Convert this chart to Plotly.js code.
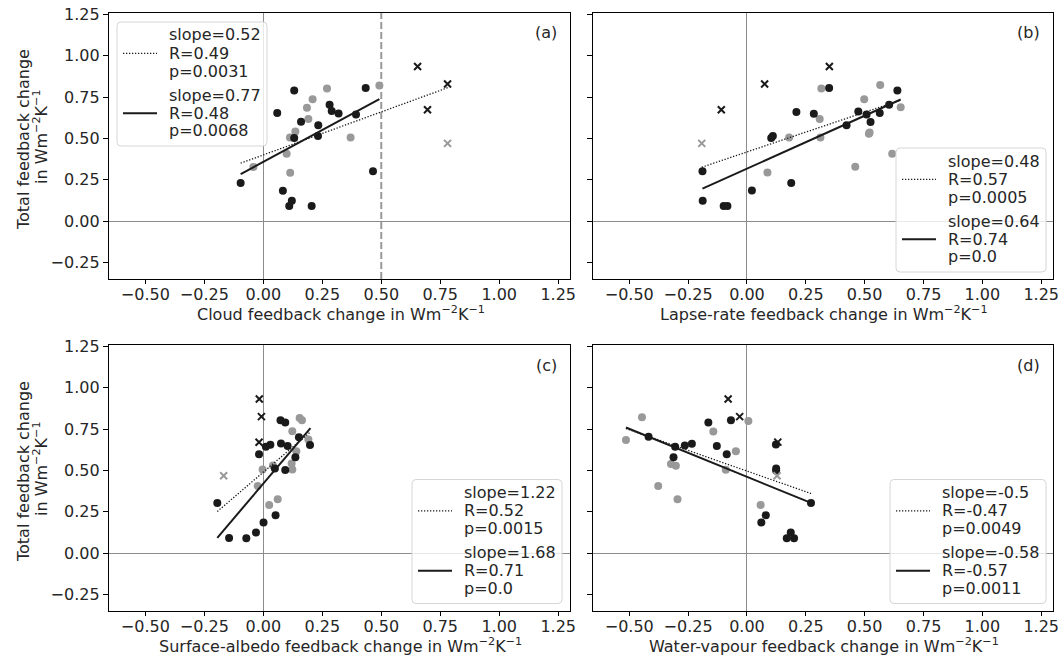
<!DOCTYPE html>
<html>
<head>
<meta charset="utf-8">
<script src="https://cdn.plot.ly/plotly-3.0.1.min.js"></script>
<style>html,body{margin:0;padding:0;background:#fff;}#chart{width:1062px;height:657px;}</style>
</head>
<body>
<div id="chart"></div>
<script>
// ---------- Data ----------
// Panel (a): Cloud feedback change
const aBlackX = [-0.096, 0.059, 0.131, 0.160, 0.131, 0.233, 0.232, 0.281, 0.290, 0.319, 0.393, 0.434, 0.465, 0.083, 0.121, 0.110, 0.205];
const aBlackY = [0.230, 0.653, 0.790, 0.600, 0.502, 0.580, 0.514, 0.704, 0.665, 0.651, 0.645, 0.804, 0.302, 0.183, 0.123, 0.091, 0.091];
const aGreyX = [-0.042, 0.099, 0.114, 0.113, 0.136, 0.191, 0.185, 0.209, 0.270, 0.370, 0.492];
const aGreyY = [0.327, 0.407, 0.292, 0.506, 0.542, 0.617, 0.685, 0.736, 0.802, 0.506, 0.820];
const aCrossX = [0.654, 0.781, 0.696];
const aCrossY = [0.935, 0.829, 0.673];
const aGreyCrossX = [0.781];
const aGreyCrossY = [0.470];

// Panel (b): Lapse-rate feedback change
const bBlackX = [-0.189, -0.188, -0.099, -0.083, 0.021, 0.103, 0.110, 0.188, 0.210, 0.284, 0.349, 0.423, 0.473, 0.508, 0.525, 0.564, 0.604, 0.639];
const bBlackY = [0.302, 0.123, 0.091, 0.091, 0.185, 0.502, 0.514, 0.230, 0.659, 0.649, 0.804, 0.580, 0.663, 0.645, 0.599, 0.653, 0.704, 0.790];
const bGreyX = [0.087, 0.179, 0.312, 0.309, 0.316, 0.460, 0.498, 0.521, 0.518, 0.566, 0.617, 0.653];
const bGreyY = [0.294, 0.506, 0.506, 0.617, 0.802, 0.329, 0.736, 0.536, 0.528, 0.823, 0.407, 0.688];
const bCrossX = [-0.109, 0.075, 0.350];
const bCrossY = [0.673, 0.829, 0.935];
const bGreyCrossX = [-0.192];
const bGreyCrossY = [0.470];

// Panel (c): Surface-albedo feedback change
const cBlackX = [-0.195, -0.145, -0.072, -0.031, 0.001, 0.052, -0.018, 0.011, 0.030, 0.049, 0.075, 0.103, 0.093, 0.073, 0.093, 0.136, 0.151, 0.198];
const cBlackY = [0.303, 0.092, 0.090, 0.124, 0.185, 0.229, 0.598, 0.643, 0.655, 0.512, 0.663, 0.647, 0.502, 0.803, 0.789, 0.580, 0.701, 0.653];
const cGreyX = [-0.024, -0.003, 0.025, 0.061, 0.041, 0.123, 0.120, 0.123, 0.140, 0.154, 0.164, 0.191];
const cGreyY = [0.406, 0.506, 0.291, 0.325, 0.530, 0.737, 0.542, 0.506, 0.616, 0.817, 0.803, 0.687];
const cCrossX = [-0.017, -0.008, -0.018];
const cCrossY = [0.932, 0.825, 0.670];
const cGreyCrossX = [-0.168];
const cGreyCrossY = [0.468];

// Panel (d): Water-vapour feedback change
const dBlackX = [-0.418, -0.305, -0.312, -0.264, -0.234, -0.164, -0.128, -0.086, -0.068, 0.123, 0.124, 0.124, 0.272, 0.080, 0.061, 0.186, 0.169, 0.200];
const dBlackY = [0.703, 0.643, 0.580, 0.651, 0.661, 0.789, 0.647, 0.598, 0.803, 0.657, 0.512, 0.500, 0.303, 0.229, 0.185, 0.124, 0.090, 0.090];
const dGreyX = [-0.514, -0.446, -0.377, -0.323, -0.302, -0.295, -0.143, -0.090, -0.047, 0.006, 0.058];
const dGreyY = [0.683, 0.821, 0.406, 0.538, 0.528, 0.325, 0.735, 0.504, 0.616, 0.799, 0.291];
const dCrossX = [-0.080, -0.031, 0.131];
const dCrossY = [0.932, 0.825, 0.671];
const dGreyCrossX = [0.128];
const dGreyCrossY = [0.468];

// Regression fits: [slope, intercept, xStart, xEnd]
const fitAllA = [0.52, 0.40, -0.096, 0.788];
const fitSubA = [0.77, 0.358, -0.096, 0.492];
const fitAllB = [0.48, 0.418, -0.192, 0.653];
const fitSubB = [0.64, 0.317, -0.189, 0.653];
const fitAllC = [1.22, 0.489, -0.195, 0.200];
const fitSubC = [1.68, 0.420, -0.195, 0.200];
const fitAllD = [-0.50, 0.496, -0.514, 0.272];
const fitSubD = [-0.58, 0.461, -0.514, 0.272];

// Legend labels (three lines per fit)
const labAllA = ["slope=0.52", "R=0.49", "p=0.0031"];
const labSubA = ["slope=0.77", "R=0.48", "p=0.0068"];
const labAllB = ["slope=0.48", "R=0.57", "p=0.0005"];
const labSubB = ["slope=0.64", "R=0.74", "p=0.0"];
const labAllC = ["slope=1.22", "R=0.52", "p=0.0015"];
const labSubC = ["slope=1.68", "R=0.71", "p=0.0"];
const labAllD = ["slope=-0.5", "R=-0.47", "p=0.0049"];
const labSubD = ["slope=-0.58", "R=-0.57", "p=0.0011"];

const cloudThreshold = 0.5;

const xTitles = ["Cloud feedback change in Wm<sup>\u22122</sup>K<sup>\u22121</sup>",
                 "Lapse-rate feedback change in Wm<sup>\u22122</sup>K<sup>\u22121</sup>",
                 "Surface-albedo feedback change in Wm<sup>\u22122</sup>K<sup>\u22121</sup>",
                 "Water-vapour feedback change in Wm<sup>\u22122</sup>K<sup>\u22121</sup>"];
const yTitleLines = ["Total feedback change", "in Wm<sup>\u22122</sup>K<sup>\u22121</sup>"];
const panelLabels = ["(a)", "(b)", "(c)", "(d)"];
const xTickVals = [-0.5, -0.25, 0, 0.25, 0.5, 0.75, 1.0, 1.25];
const yTickVals = [-0.25, 0, 0.25, 0.5, 0.75, 1.0, 1.25];

// ---------- Build ----------
const BLACK = "#1a1a1a", GREY = "#999999", TXT = "#262626";
const FONT = "DejaVu Sans, Verdana, sans-serif";
const DOT = "1.3px,1.7px";
const W = 1062, H = 657, mL = 109, mR = 9, mT = 13, mB = 46;
const PW = W - mL - mR, PH = H - mT - mB;
const P = px => (px - mL) / PW;           // pixel x -> paper
const Q = py => 1 - (py - mT) / PH;       // pixel y -> paper

// axes boxes in pixels [left, top, right, bottom]
const boxes = [[109, 13, 570, 279], [593, 13, 1053, 279], [109, 345, 570, 611], [593, 345, 1053, 611]];
// legend boxes in pixels [left, top, width]
const legendBoxes = [[117, 22, 150], [896, 148, 150], [412, 479.5, 150], [890, 479.5, 156]];

const panels = [
  {bx:aBlackX, by:aBlackY, gx:aGreyX, gy:aGreyY, cx:aCrossX, cy:aCrossY, gcx:aGreyCrossX, gcy:aGreyCrossY, fa:fitAllA, fs:fitSubA, la:labAllA, ls:labSubA},
  {bx:bBlackX, by:bBlackY, gx:bGreyX, gy:bGreyY, cx:bCrossX, cy:bCrossY, gcx:bGreyCrossX, gcy:bGreyCrossY, fa:fitAllB, fs:fitSubB, la:labAllB, ls:labSubB},
  {bx:cBlackX, by:cBlackY, gx:cGreyX, gy:cGreyY, cx:cCrossX, cy:cCrossY, gcx:cGreyCrossX, gcy:cGreyCrossY, fa:fitAllC, fs:fitSubC, la:labAllC, ls:labSubC},
  {bx:dBlackX, by:dBlackY, gx:dGreyX, gy:dGreyY, cx:dCrossX, cy:dCrossY, gcx:dGreyCrossX, gcy:dGreyCrossY, fa:fitAllD, fs:fitSubD, la:labAllD, ls:labSubD}
];

const traces = [];
const shapes = [{type:"line", xref:"x", yref:"y domain", x0:cloudThreshold, x1:cloudThreshold, y0:0, y1:1,
    line:{color:"#999999", width:2, dash:"7px,3px"}, layer:"below"}];
const annotations = [];
const tf = {family:FONT, size:16, color:TXT};

panels.forEach((p, i) => {
  const n = i === 0 ? "" : String(i + 1);
  const xa = "x" + n, ya = "y" + n;
  traces.push({type:"scatter", mode:"markers", x:p.gx, y:p.gy, xaxis:xa, yaxis:ya, showlegend:false,
    marker:{color:GREY, size:8}, hoverinfo:"skip"});
  traces.push({type:"scatter", mode:"markers", x:p.bx, y:p.by, xaxis:xa, yaxis:ya, showlegend:false,
    marker:{color:BLACK, size:8}, hoverinfo:"skip"});
  traces.push({type:"scatter", mode:"markers", x:p.cx, y:p.cy, xaxis:xa, yaxis:ya, showlegend:false,
    marker:{symbol:"x-thin", size:7, line:{color:BLACK, width:2}}, hoverinfo:"skip"});
  traces.push({type:"scatter", mode:"markers", x:p.gcx, y:p.gcy, xaxis:xa, yaxis:ya, showlegend:false,
    marker:{symbol:"x-thin", size:7, line:{color:GREY, width:2}}, hoverinfo:"skip"});
  const fx = f => [f[2], f[3]];
  const fy = f => [f[0]*f[2] + f[1], f[0]*f[3] + f[1]];
  traces.push({type:"scatter", mode:"lines", x:fx(p.fa), y:fy(p.fa), xaxis:xa, yaxis:ya, showlegend:false,
    line:{color:BLACK, width:1.3, dash:DOT}, hoverinfo:"skip"});
  traces.push({type:"scatter", mode:"lines", x:fx(p.fs), y:fy(p.fs), xaxis:xa, yaxis:ya, showlegend:false,
    line:{color:BLACK, width:2}, hoverinfo:"skip"});

  const b = boxes[i];
  const cxm = (b[0] + b[2]) / 2, cym = (b[1] + b[3]) / 2;
  annotations.push({text:xTitles[i], xref:"paper", yref:"paper", x:P(cxm + 1), y:Q(b[3] + 34), xanchor:"center", yanchor:"middle",
    showarrow:false, font:tf});
  if (i % 2 === 0) {
    annotations.push({text:yTitleLines[0], xref:"paper", yref:"paper", x:P(23), y:Q(cym - 6), xanchor:"center", yanchor:"middle",
      textangle:-90, showarrow:false, font:tf});
    annotations.push({text:yTitleLines[1], xref:"paper", yref:"paper", x:P(40), y:Q(cym - 9), xanchor:"center", yanchor:"middle",
      textangle:-90, showarrow:false, font:tf});
  }
  annotations.push({text:panelLabels[i], xref:"paper", yref:"paper", x:P(b[2] - 11), y:Q(b[1] + 20), xanchor:"right", yanchor:"middle",
    showarrow:false, font:tf});

  const L = legendBoxes[i];
  const lx0 = L[0], ly0 = L[1], lx1 = L[0] + L[2], ly1 = L[1] + 124, r = 4;
  const path = `M${P(lx0 + r)},${Q(ly0)} L${P(lx1 - r)},${Q(ly0)} Q${P(lx1)},${Q(ly0)} ${P(lx1)},${Q(ly0 + r)} ` +
    `L${P(lx1)},${Q(ly1 - r)} Q${P(lx1)},${Q(ly1)} ${P(lx1 - r)},${Q(ly1)} L${P(lx0 + r)},${Q(ly1)} ` +
    `Q${P(lx0)},${Q(ly1)} ${P(lx0)},${Q(ly1 - r)} L${P(lx0)},${Q(ly0 + r)} Q${P(lx0)},${Q(ly0)} ${P(lx0 + r)},${Q(ly0)} Z`;
  shapes.push({type:"path", xref:"paper", yref:"paper", path:path, fillcolor:"rgba(255,255,255,0.8)",
    line:{color:"#d6d6d6", width:1}, layer:"above"});
  shapes.push({type:"line", xref:"paper", yref:"paper", x0:P(lx0 + 6), x1:P(lx0 + 40), y0:Q(ly0 + 31.3), y1:Q(ly0 + 31.3),
    line:{color:BLACK, width:1.3, dash:DOT}, layer:"above"});
  shapes.push({type:"line", xref:"paper", yref:"paper", x0:P(lx0 + 6), x1:P(lx0 + 40), y0:Q(ly0 + 91.3), y1:Q(ly0 + 91.3),
    line:{color:BLACK, width:2}, layer:"above"});
  const offs = [13, 31.3, 49, 73, 91.3, 108.7];
  const lines = p.la.concat(p.ls);
  lines.forEach((t, k) => {
    annotations.push({text:t, xref:"paper", yref:"paper", x:P(lx0 + 51), y:Q(ly0 + offs[k]), xanchor:"left", yanchor:"middle",
      showarrow:false, font:tf, borderpad:0});
  });
});

function xAxis(dom, anchor) {
  return {domain:dom, anchor:anchor, range:[-0.654, 1.30], tickvals:xTickVals, tickformat:".2f",
    ticks:"outside", ticklen:4, tickwidth:1, tickcolor:"#000", showline:true, linecolor:"#000", linewidth:1.2, mirror:true,
    showgrid:false, zeroline:true, zerolinecolor:"#8c8c8c", zerolinewidth:1, ticklabelstandoff:-3,
    tickfont:tf, title:{text:""}};
}
function yAxis(dom, anchor, labels) {
  return {domain:dom, anchor:anchor, range:[-0.35, 1.258], tickvals:yTickVals, tickformat:".2f",
    ticks:"outside", ticklen:5, tickwidth:1, tickcolor:"#000", showline:true, linecolor:"#000", linewidth:1.2, mirror:true,
    showgrid:false, zeroline:true, zerolinecolor:"#8c8c8c", zerolinewidth:1, showticklabels:labels,
    tickfont:tf, title:{text:""}};
}
const xDomL = [0, P(570)], xDomR = [P(593), 1];
const yDomT = [Q(279), 1], yDomB = [0, Q(345)];

const layout = {
  width:W, height:H, margin:{l:mL, r:mR, t:mT, b:mB},
  paper_bgcolor:"#fff", plot_bgcolor:"#fff", font:tf, showlegend:false,
  xaxis:xAxis(xDomL, "y"), yaxis:yAxis(yDomT, "x", true),
  xaxis2:xAxis(xDomR, "y2"), yaxis2:yAxis(yDomT, "x2", false),
  xaxis3:xAxis(xDomL, "y3"), yaxis3:yAxis(yDomB, "x3", true),
  xaxis4:xAxis(xDomR, "y4"), yaxis4:yAxis(yDomB, "x4", false),
  shapes:shapes, annotations:annotations
};

Plotly.newPlot("chart", traces, layout, {displayModeBar:false, staticPlot:true});
</script>
</body>
</html>
